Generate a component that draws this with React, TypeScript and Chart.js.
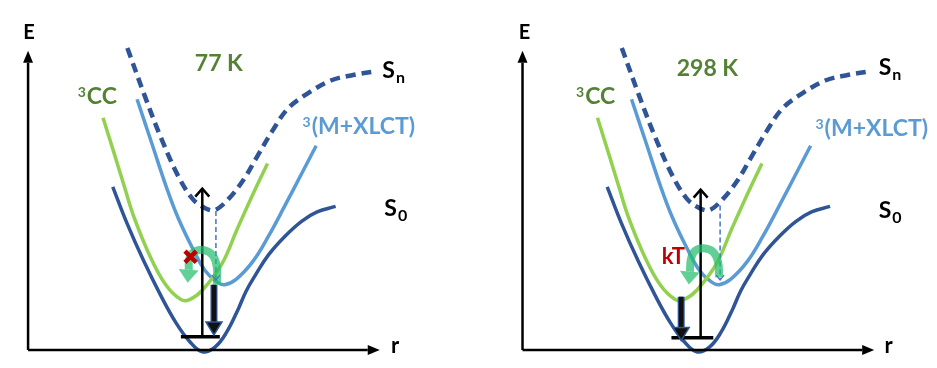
import { useEffect, useRef } from "react";
import { Chart, registerables } from "chart.js";

Chart.register(...registerables);

// ---- Potential-energy curves, in (r, E) units of one panel (origin = axis corner) ----
const S0_R = [87, 102, 119, 136, 152, 166, 179, 192, 204, 216, 224, 234, 247, 264, 281, 297, 316];
const S0_E = [175, 135, 95, 59, 29, 9, -2, 3, 19, 44, 63, 81, 102, 122, 138, 148, 154];

const SN_R = [102, 119, 136, 154, 169, 182, 192, 206, 221, 234, 251, 267, 287, 311, 334, 357];
const SN_E = [324, 275, 229, 187, 162, 152, 150, 162, 182, 205, 235, 259, 275, 289, 295, 299];

const MLCT_R = [112, 127, 142, 154, 169, 182, 194, 202, 214, 231, 247, 264, 281, 296];
const MLCT_E = [269, 222, 175, 142, 109, 85, 73, 70, 76, 95, 122, 155, 189, 219];

const CC_R = [77, 89, 99, 109, 126, 142, 157, 166, 179, 199, 215, 231, 246];
const CC_E = [249, 209, 175, 142, 99, 69, 54, 54, 64, 92, 130, 167, 200];

// ---- Axes extents (per panel) ----
const AXIS_R_END = 349;
const AXIS_E_END = 308;

// ---- Transitions, one value per panel: [77 K, 298 K] ----
const PANEL_TITLES = ["77 K", "298 K"];
const EXCITATION_R = [179, 183];
const EXCITATION_E0 = [14, 13];
const EXCITATION_E1 = [173, 172];
const GROUND_R0 = [157, 153];
const GROUND_R1 = [197, 196];
const GROUND_E = [14, 13];
const EMISSION_R = [191, 163];
const EMISSION_E0 = [70, 57];
const EMISSION_E1 = [30, 24];
const RELAX_R = [193, 203];
const RELAX_E0 = [149, 155];
const RELAX_E1 = [75, 75];
const ISC_R = [
  [194, 194, 190, 181, 172, 166, 165],
  [202, 201, 196, 186, 177, 173, 172],
];
const ISC_E = [
  [70, 88, 101, 107, 106, 99, 86],
  [78, 94, 105, 109, 106, 97, 84],
];
const BLOCKED_R = [167];
const BLOCKED_E = [100];

// ---- layout / style (not data) ----
const PANEL_OFFSET = [0, 508];
const FONT = "Lato, 'Open Sans', sans-serif";
const DARK_BLUE = "#2f5597";
const LIGHT_BLUE = "#5b9bd5";
const LIGHT_GREEN = "#92d050";
const TEXT_GREEN = "#548235";
const RED = "#c00000";
const ARROW_GREEN = "rgba(38,190,110,0.72)";

const LABELS: any[] = [
  // panel 0
  { p: 0, text: "E", r: 1, E: 334, size: 20, color: "#000", align: "center" },
  { p: 0, text: "r", r: 377, E: -3, size: 22, color: "#000", align: "center" },
  { p: 0, sup: "3", text: "CC", r: 51, E: 264, size: 23, color: TEXT_GREEN, align: "left" },
  { p: 0, sup: "3", text: "(M+XLCT)", r: 282, E: 232, size: 23, color: LIGHT_BLUE, align: "left" },
  { p: 0, text: "S", sub: "n", r: 364, E: 292, size: 23, color: "#000", align: "left" },
  { p: 0, text: "S", sub: "0", r: 366, E: 144, size: 23, color: "#000", align: "left" },
  // panel 1
  { p: 1, text: "E", r: 2, E: 334, size: 20, color: "#000", align: "center" },
  { p: 1, text: "r", r: 376, E: -3, size: 22, color: "#000", align: "center" },
  { p: 1, sup: "3", text: "CC", r: 55, E: 264, size: 23, color: TEXT_GREEN, align: "left" },
  { p: 1, sup: "3", text: "(M+XLCT)", r: 301, E: 230, size: 23, color: LIGHT_BLUE, align: "left" },
  { p: 1, text: "S", sub: "n", r: 366, E: 295, size: 23, color: "#000", align: "left" },
  { p: 1, text: "S", sub: "0", r: 366, E: 142, size: 23, color: "#000", align: "left" },
  { p: 1, text: "kT", r: 155, E: 100, size: 22, color: RED, align: "center", middle: true },
];
const TITLE_POS = [
  { r: 196, E: 307 },
  { r: 190, E: 302 },
];

function pts(rs: number[], es: number[], off: number) {
  return rs.map((r, i) => ({ x: r + off, y: es[i] }));
}

const arrowPlugin = {
  id: "arrowheads",
  afterDatasetsDraw(chart: any) {
    const ctx = chart.ctx;
    chart.data.datasets.forEach((ds: any, i: number) => {
      const head = ds.head;
      if (!head) return;
      const meta = chart.getDatasetMeta(i);
      const d = meta.data;
      const n = d.length;
      if (n < 2) return;
      const p1 = d[n - 2];
      const p2 = d[n - 1];
      const ang = Math.atan2(p2.y - p1.y, p2.x - p1.x);
      ctx.save();
      ctx.translate(p2.x, p2.y);
      ctx.rotate(ang);
      if (head.type === "filled") {
        ctx.beginPath();
        ctx.moveTo(head.len, 0);
        ctx.lineTo(0, -head.w);
        ctx.lineTo(0, head.w);
        ctx.closePath();
        ctx.fillStyle = head.color;
        ctx.fill();
        if (head.stroke) {
          ctx.strokeStyle = head.stroke;
          ctx.lineWidth = 1.5;
          ctx.lineJoin = "miter";
          ctx.stroke();
        }
      } else {
        ctx.beginPath();
        ctx.moveTo(-head.len, -head.w);
        ctx.lineTo(0, 0);
        ctx.lineTo(-head.len, head.w);
        ctx.strokeStyle = head.color;
        ctx.lineWidth = head.lw;
        ctx.lineCap = "butt";
        ctx.lineJoin = "miter";
        ctx.stroke();
      }
      ctx.restore();
    });
  },
};

const labelPlugin = {
  id: "labels",
  afterDraw(chart: any) {
    const ctx = chart.ctx;
    const xs = chart.scales.x;
    const ys = chart.scales.y;
    ctx.save();
    PANEL_TITLES.forEach((t, p) => {
      const pos = TITLE_POS[p];
      ctx.font = `bold 23px ${FONT}`;
      ctx.fillStyle = TEXT_GREEN;
      ctx.textAlign = "center";
      ctx.textBaseline = "middle";
      ctx.fillText(t, xs.getPixelForValue(pos.r + PANEL_OFFSET[p]), ys.getPixelForValue(pos.E));
    });
    LABELS.forEach((l) => {
      let x = xs.getPixelForValue(l.r + PANEL_OFFSET[l.p]);
      const y = ys.getPixelForValue(l.E);
      ctx.fillStyle = l.color;
      ctx.textBaseline = l.middle ? "middle" : "alphabetic";
      if (l.sup) {
        ctx.font = `bold ${Math.round(l.size * 0.62)}px ${FONT}`;
        ctx.textAlign = "left";
        ctx.fillText(l.sup, x, y - l.size * 0.3);
        x += ctx.measureText(l.sup).width + 1;
      }
      ctx.font = `bold ${l.size}px ${FONT}`;
      ctx.textAlign = l.align;
      ctx.fillText(l.text, x, y);
      if (l.sub) {
        const w = ctx.measureText(l.text).width;
        ctx.font = `bold ${Math.round(l.size * 0.68)}px ${FONT}`;
        ctx.textAlign = "left";
        ctx.fillText(l.sub, x + w + 1, y + 5);
      }
    });
    ctx.restore();
  },
};

function line(data: any[], color: string, width: number, order: number, extra: any = {}) {
  return {
    data,
    showLine: true,
    borderColor: color,
    backgroundColor: color,
    borderWidth: width,
    pointRadius: 0,
    pointHoverRadius: 0,
    fill: false,
    order,
    ...extra,
  };
}

function buildDatasets() {
  const ds: any[] = [];
  PANEL_OFFSET.forEach((off, p) => {
    // axes
    ds.push(line(pts([0, 0], [0, AXIS_E_END], off), "#000", 2.5, 6, {
      head: { type: "filled", len: 12, w: 5, color: "#000" },
    }));
    ds.push(line(pts([0, AXIS_R_END], [0, 0], off), "#000", 2.5, 6, {
      head: { type: "filled", len: 12, w: 5, color: "#000" },
    }));
    // curves
    ds.push(line(pts(S0_R, S0_E, off), DARK_BLUE, 3.5, 10, { tension: 0.4 }));
    ds.push(line(pts(CC_R, CC_E, off), LIGHT_GREEN, 3.5, 10, { tension: 0.4 }));
    ds.push(line(pts(MLCT_R, MLCT_E, off), LIGHT_BLUE, 3.5, 10, { tension: 0.4 }));
    ds.push(line(pts(SN_R, SN_E, off), DARK_BLUE, 4.5, 10, { tension: 0.35, borderDash: [10, 6] }));
    // ground vibrational level
    ds.push(line(pts([GROUND_R0[p], GROUND_R1[p]], [GROUND_E[p], GROUND_E[p]], off), "#000", 3.5, 5));
    // excitation
    ds.push(line(pts([EXCITATION_R[p], EXCITATION_R[p]], [EXCITATION_E0[p], EXCITATION_E1[p]], off), "#000", 2.5, 5, {
      head: { type: "open", len: 8, w: 7, lw: 2.5, color: "#000" },
    }));
    // relaxation (thin dashed)
    ds.push(line(pts([RELAX_R[p], RELAX_R[p]], [RELAX_E0[p], RELAX_E1[p]], off), "#4472c4", 1.5, 5, {
      borderDash: [5, 3],
      head: { type: "open", len: 5, w: 4, lw: 1.2, color: "#4472c4" },
    }));
    // emission (thick down arrow)
    ds.push(line(pts([EMISSION_R[p], EMISSION_R[p]], [EMISSION_E0[p], EMISSION_E1[p]], off), DARK_BLUE, 7, 4));
    ds.push(line(pts([EMISSION_R[p], EMISSION_R[p]], [EMISSION_E0[p], EMISSION_E1[p]], off), "#111", 4.5, 3, {
      head: { type: "filled", len: 13, w: 8, color: "#111", stroke: DARK_BLUE },
    }));
    // intersystem crossing (curved green arrow)
    ds.push(line(pts(ISC_R[p], ISC_E[p], off), ARROW_GREEN, 8, 2, {
      tension: 0.45,
      head: { type: "filled", len: 13, w: 10, color: ARROW_GREEN },
    }));
  });
  // blocked crossing at 77 K
  ds.push({
    data: pts(BLOCKED_R, BLOCKED_E, PANEL_OFFSET[0]),
    showLine: false,
    pointStyle: "crossRot",
    pointRadius: 8,
    pointBorderWidth: 4.5,
    borderWidth: 4.5,
    borderColor: RED,
    backgroundColor: RED,
    order: 1,
  });
  return ds;
}

export default function App() {
  const ref = useRef<HTMLCanvasElement>(null);
  useEffect(() => {
    document.body.style.margin = "0";
    const chart = new Chart(ref.current as HTMLCanvasElement, {
      type: "scatter",
      data: { datasets: buildDatasets() },
      options: {
        animation: false,
        responsive: false,
        maintainAspectRatio: false,
        devicePixelRatio: 1,
        layout: { padding: 0 },
        events: [],
        plugins: { legend: { display: false }, tooltip: { enabled: false } },
        scales: {
          x: { type: "linear", min: -16, max: 921, display: false },
          y: { type: "linear", min: -6, max: 362, display: false },
        },
      } as any,
      plugins: [arrowPlugin, labelPlugin],
    });
    return () => chart.destroy();
  }, []);
  return (
    <div style={{ width: 937, height: 368, background: "#fff" }}>
      <canvas ref={ref} width={937} height={368} style={{ display: "block" }} />
    </div>
  );
}
